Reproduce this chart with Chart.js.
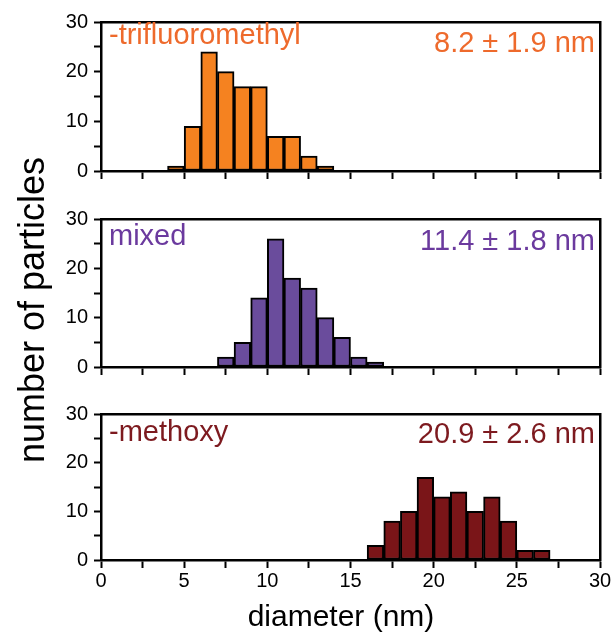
<!DOCTYPE html>
<html><head><meta charset="utf-8">
<script src="https://cdn.jsdelivr.net/npm/chart.js@4.4.0/dist/chart.umd.min.js"></script>
<style>
html,body{margin:0;padding:0;background:#fff;}
#wrap{position:relative;width:616px;height:640px;overflow:hidden;}
canvas{position:absolute;left:0;top:0;}
</style></head><body>
<div id="wrap">
<canvas id="c1" width="616" height="640"></canvas>
<canvas id="c2" width="616" height="640"></canvas>
<canvas id="c3" width="616" height="640"></canvas>
</div>
<script>
// ---- data ----
const diameterTicks = [0, 5, 10, 15, 20, 25, 30];
const countTicks = [0, 10, 20, 30];

const trifluoroBins   = [4.5, 5.5, 6.5, 7.5, 8.5, 9.5, 10.5, 11.5, 12.5, 13.5];
const trifluoroCounts = [1, 9, 24, 20, 17, 17, 7, 7, 3, 1];

const mixedBins   = [7.5, 8.5, 9.5, 10.5, 11.5, 12.5, 13.5, 14.5, 15.5, 16.5];
const mixedCounts = [2, 5, 14, 26, 18, 16, 10, 6, 2, 1];

const methoxyBins   = [16.5, 17.5, 18.5, 19.5, 20.5, 21.5, 22.5, 23.5, 24.5, 25.5, 26.5];
const methoxyCounts = [3, 8, 10, 17, 13, 14, 10, 13, 8, 2, 2];

const panelNames = ['-trifluoromethyl', 'mixed', '-methoxy'];
const panelStats = ['8.2 ± 1.9 nm', '11.4 ± 1.8 nm', '20.9 ± 2.6 nm'];
const xTitle = 'diameter (nm)';
const yTitle = 'number of particles';

// ---- styling ----
const FONT = '"Liberation Sans", Arial, Helvetica, sans-serif';

const panelText = {
  id: 'panelText',
  afterDraw(chart, args, o) {
    const {ctx, chartArea} = chart;
    ctx.save();
    ctx.font = o.size + 'px ' + FONT;
    ctx.fillStyle = o.color;
    ctx.textBaseline = 'alphabetic';
    ctx.textAlign = 'left';
    ctx.fillText(o.name, chartArea.left + 8, chartArea.top + o.nameDy);
    ctx.textAlign = 'right';
    ctx.fillText(o.stats, chartArea.right - 5, chartArea.top + o.statsDy);
    if (o.xTitle) {
      ctx.font = o.xTitleSize + 'px ' + FONT;
      ctx.fillStyle = '#000';
      ctx.textAlign = 'center';
      ctx.textBaseline = 'middle';
      ctx.fillText(o.xTitle, o.xTitleX, o.xTitleY);
    }
    if (o.yTitle) {
      ctx.translate(o.yTitleX, o.yTitleY);
      ctx.rotate(-Math.PI / 2);
      ctx.font = o.yTitleSize + 'px ' + FONT;
      ctx.fillStyle = '#000';
      ctx.textAlign = 'center';
      ctx.textBaseline = 'middle';
      ctx.fillText(o.yTitle, 0, 0);
    }
    ctx.restore();
  }
};

function makePanel(id, bins, counts, barColor, textColor, name, stats, cfg) {
  const data = bins.map((b, i) => ({x: b, y: counts[i]}));
  return new Chart(document.getElementById(id), {
    type: 'bar',
    data: {datasets: [{
      data: data,
      backgroundColor: barColor,
      borderColor: '#000',
      borderWidth: 2,
      borderSkipped: false,
      barPercentage: 1,
      categoryPercentage: 1,
      grouped: false
    }]},
    options: {
      responsive: false,
      animation: false,
      events: [],
      layout: {padding: {left: 0, right: 16, top: cfg.top, bottom: 0}},
      plugins: {
        legend: {display: false},
        tooltip: {enabled: false},
        panelText: {name: name, stats: stats, color: textColor, size: 29,
                    nameDy: cfg.nameDy, statsDy: cfg.statsDy,
                    yTitle: cfg.showY ? yTitle : null, yTitleSize: 36,
                    yTitleX: 34, yTitleY: 310,
                    xTitle: cfg.showX ? xTitle : null, xTitleSize: 30,
                    xTitleX: 341, xTitleY: 618}
      },
      scales: {
        x: {
          type: 'linear', position: 'bottom', min: 0, max: 30, offset: false,
          grid: {display: true, drawOnChartArea: false, drawTicks: true, tickLength: 8,
                 tickWidth: 2, tickColor: '#000', offset: false},
          border: {display: true, color: '#000', width: 2.5},
          ticks: {
            display: cfg.showX, stepSize: 2.5, autoSkip: false, maxRotation: 0,
            color: '#000', padding: 1, font: {family: FONT, size: 20},
            callback: v => diameterTicks.includes(v) ? String(v) : ''
          },
          afterFit: s => { s.height = cfg.xh; }
        },
        xTop: {
          type: 'linear', position: 'top', min: 0, max: 30,
          grid: {display: false}, ticks: {display: false},
          border: {display: true, color: '#000', width: 2.5},
          afterFit: s => { s.height = 0; }
        },
        y: {
          type: 'linear', position: 'left', min: 0, max: 30,
          grid: {display: true, drawOnChartArea: false, drawTicks: true, tickLength: 7,
                 tickWidth: 2, tickColor: '#000'},
          border: {display: true, color: '#000', width: 2.5},
          ticks: {
            stepSize: 5, autoSkip: false, color: '#000', padding: 6,
            font: {family: FONT, size: 20},
            callback: v => countTicks.includes(v) ? String(v) : ''
          },
          afterFit: s => { s.width = 101; }
        },
        yRight: {
          type: 'linear', position: 'right', min: 0, max: 30,
          grid: {display: false}, ticks: {display: false},
          border: {display: true, color: '#000', width: 2.5},
          afterFit: s => { s.width = 0; }
        }
      }
    },
    plugins: [panelText]
  });
}

makePanel('c1', trifluoroBins, trifluoroCounts, '#F58220', '#EE6A2C',
  panelNames[0], panelStats[0],
  {top: 22, xh: 469, showX: false, showY: false, nameDy: 22, statsDy: 30});
makePanel('c2', mixedBins, mixedCounts, '#6A4C9C', '#6B3A9E',
  panelNames[1], panelStats[1],
  {top: 219, xh: 273, showX: false, showY: true, nameDy: 26, statsDy: 31});
makePanel('c3', methoxyBins, methoxyCounts, '#7A1518', '#7D1A1F',
  panelNames[2], panelStats[2],
  {top: 414, xh: 80, showX: true, showY: false, nameDy: 27, statsDy: 29});
</script>
</body></html>
